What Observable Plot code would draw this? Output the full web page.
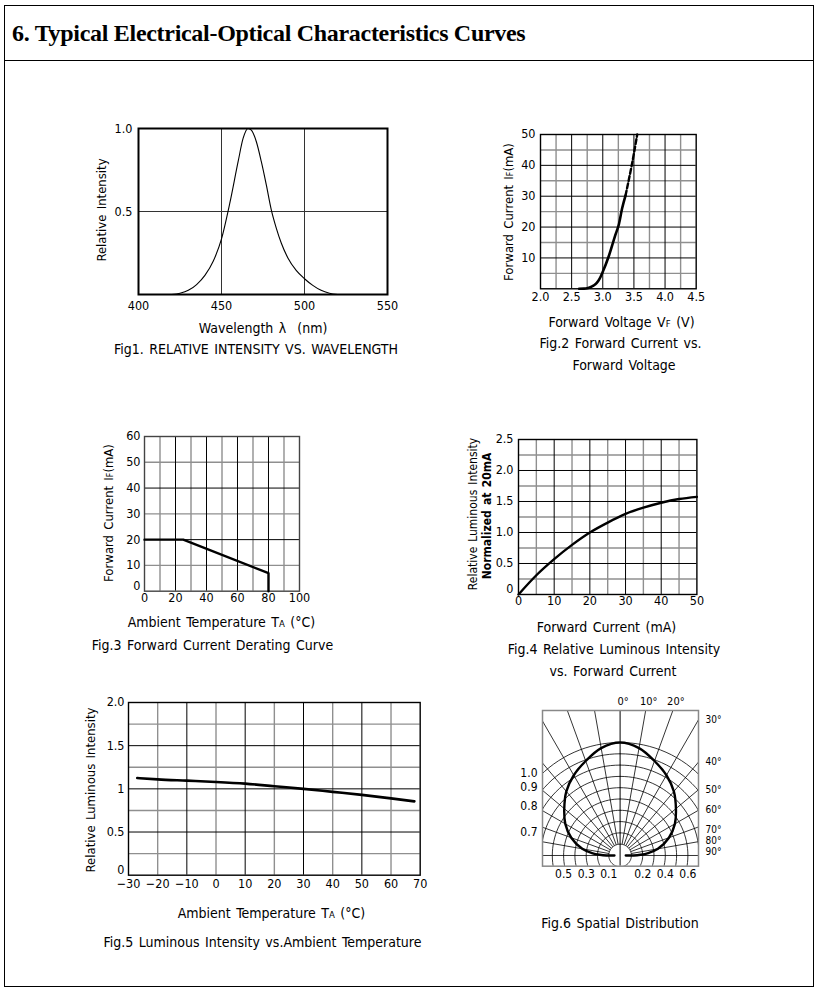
<!DOCTYPE html>
<html><head><meta charset="utf-8">
<script src="https://cdn.jsdelivr.net/npm/d3@7"></script>
<script src="https://cdn.jsdelivr.net/npm/@observablehq/plot@0.6"></script>
<style>
body{margin:0;background:#fff;}
#page{position:relative;width:818px;height:997px;background:#fff;overflow:hidden;font-family:"DejaVu Sans Condensed","DejaVu Sans",sans-serif;font-stretch:condensed;color:#000;}
.t{position:absolute;white-space:nowrap;transform:translate(-50%,-50%);font-size:14px;line-height:1;word-spacing:1.5px;}
.r{transform:translate(-50%,-50%) rotate(-90deg);font-size:13px;}
.r12{font-size:12px;}
.s{font-size:0.68em;}
.b{font-weight:bold;}
#page svg{position:absolute;overflow:visible;}
#box{position:absolute;left:4px;top:5px;width:810px;height:982px;border:1.5px solid #000;box-sizing:border-box;}
#sep{position:absolute;left:4px;top:60px;width:810px;height:0;border-top:1.5px solid #000;}
#title{position:absolute;left:12px;top:21px;font-family:"Liberation Serif","DejaVu Serif",serif;font-weight:bold;font-size:24px;line-height:1;white-space:nowrap;letter-spacing:-0.3px;}
</style></head><body><div id="page"><div id="box"></div><div id="sep"></div><div id="title">6. Typical Electrical-Optical Characteristics Curves</div></div>
<script>
// ---------- data ----------
// Fig1: relative intensity vs wavelength
const fig1Wavelength = [420,425,430,435,440,445,450,455,460,463,466,468,471,474,477,480,483,486,490,495,500,505,510,515,520];
const fig1Intensity  = [0,0.008,0.025,0.06,0.115,0.2,0.335,0.55,0.8,0.94,1.0,0.99,0.92,0.8,0.66,0.51,0.4,0.31,0.22,0.145,0.095,0.055,0.025,0.008,0];
const fig1XTicks = [400,450,500,550];
const fig1YTicks = [0.5,1.0];
// Fig2: forward current vs forward voltage
const fig2VoltSolid = [2.62,2.7,2.75,2.8,2.85,2.9,2.95,3.0,3.1,3.2,3.26,3.31,3.365];
const fig2CurrSolid = [0,0.05,0.2,0.5,1.0,1.8,3.3,5.5,10.8,17.3,21,26,30.2];
const fig2VoltDash = [3.365,3.42,3.47,3.51,3.553];
const fig2CurrDash = [30.2,35.5,40.5,45,50];
const fig2XTicks = [2.0,2.5,3.0,3.5,4.0,4.5];
const fig2YTicks = [10,20,30,40,50];
// Fig3: derating curve
const fig3Temp = [0,25,80,80];
const fig3Curr = [20,20,7,0];
const fig3XTicks = [0,20,40,60,80,100];
const fig3YTicks = [0,10,20,30,40,50,60];
// Fig4: relative luminous intensity vs forward current
const fig4Curr = [0,5,10,15,20,25,30,35,40,45,50];
const fig4Lum  = [0,0.31,0.57,0.8,1.0,1.16,1.3,1.4,1.48,1.54,1.575];
const fig4XTicks = [0,10,20,30,40,50];
const fig4YTicks = [0,0.5,1.0,1.5,2.0,2.5];
// Fig5: luminous intensity vs ambient temperature
const fig5Temp = [-27,-20,-10,0,10,20,30,40,50,60,68];
const fig5Lum  = [1.125,1.11,1.095,1.08,1.06,1.03,1.0,0.965,0.93,0.89,0.855];
const fig5XTicks = [-30,-20,-10,0,10,20,30,40,50,60,70];
const fig5YTicks = [0,0.5,1,1.5,2.0];
// Fig6: spatial distribution (angle in degrees, relative intensity)
const fig6Angle = [0,10,20,30,40,50,60,70,80,85,88,90,90];
const fig6Rel   = [1.0,0.965,0.89,0.82,0.74,0.645,0.56,0.46,0.34,0.25,0.18,0.12,0.05];
const fig6Rings = [0.1,0.2,0.3,0.4,0.5,0.6,0.7,0.8,0.9,1.0];
const fig6Spokes = [-90,-80,-70,-60,-50,-40,-30,-20,-10,10,20,30,40,50,60,70,80,90];
const fig6TopLabels = [0,10,20];
const fig6RightLabels = [30,40,50,60,70,80,90];
const fig6LeftLabels = [1.0,0.9,0.8,0.7];
const fig6BottomLabels = [-0.5,-0.3,-0.1,0.2,0.4,0.6];

// ---------- helpers ----------
const page = document.getElementById("page");
const FONT = '"DejaVu Sans Condensed","DejaVu Sans",sans-serif';
function panel({frame:[x0,y0,x1,y1], m:[mt,mr,mb,ml], x, y, marks}) {
  const svg = Plot.plot({
    width: x1-x0+ml+mr, height: y1-y0+mt+mb,
    marginTop: mt, marginRight: mr, marginBottom: mb, marginLeft: ml,
    x: {...x, axis: null}, y: {...y, axis: null},
    style: {fontFamily: FONT, fontSize: "12px", fontStretch: "condensed", background: "transparent", overflow: "visible", color: "#000"},
    marks
  });
  svg.style.left = (x0-ml)+"px"; svg.style.top = (y0-mt)+"px";
  page.append(svg);
}
function label(html, cx, cy, cls="") {
  const d = document.createElement("div");
  d.className = "t " + cls; d.innerHTML = html;
  d.style.left = cx+"px"; d.style.top = cy+"px";
  page.append(d);
}
const pts = (xs, ys) => xs.map((v,i) => ({x: v, y: ys[i]}));
function grid(xs, ys) {
  const xb = xs.filter((_,i)=>i%2===1), xg = xs.filter((_,i)=>i%2===0);
  const yb = ys.filter((_,i)=>i%2===1), yg = ys.filter((_,i)=>i%2===0);
  return [
    Plot.ruleX(xg, {stroke:"#8f8f8f", strokeWidth:1.4}),
    Plot.ruleY(yg, {stroke:"#8f8f8f", strokeWidth:1.4}),
    Plot.ruleX(xb, {stroke:"#000", strokeWidth:1}),
    Plot.ruleY(yb, {stroke:"#000", strokeWidth:1})
  ];
}
function xLabels(ticks, dy, fmt=d=>String(d)) {
  return Plot.text(ticks, {x: d=>d, frameAnchor:"bottom", dy, text: fmt, fontSize: 12.5, textAnchor:"middle"});
}
function yLabels(ticks, dx, fmt=d=>String(d), zeroDy=0) {
  return [
    Plot.text(ticks.filter(d => d !== 0), {y: d=>d, frameAnchor:"left", dx, text: fmt, fontSize: 12.5, textAnchor:"end"}),
    Plot.text(ticks.filter(d => d === 0), {y: d=>d, frameAnchor:"left", dx, dy: zeroDy, text: fmt, fontSize: 12.5, textAnchor:"end"})
  ];
}
const f1 = d => d.toFixed(1);

// ---------- Fig 1 ----------
panel({frame:[138,128,387,294], m:[10,20,22,40],
  x:{domain:[400,550]}, y:{domain:[0,1]},
  marks:[
    Plot.ruleX([450,500], {stroke:"#333", strokeWidth:1}),
    Plot.ruleY([0.5], {stroke:"#333", strokeWidth:1}),
    Plot.frame({stroke:"#000", strokeWidth:2}),
    Plot.line(pts(fig1Wavelength, fig1Intensity), {x:"x", y:"y", curve:"monotone-x", strokeWidth:1.1}),
    xLabels(fig1XTicks, 15),
    ...yLabels(fig1YTicks, -6, f1)
  ]});
label("Relative Intensity", 101, 210, "r");
label("Wavelength &lambda;&nbsp; (nm)", 263, 327.5);
label("Fig1. RELATIVE INTENSITY VS. WAVELENGTH", 256, 348.5);

// ---------- Fig 2 ----------
panel({frame:[540,134,695.7,288.3], m:[10,20,22,30],
  x:{domain:[2,4.5]}, y:{domain:[0,50]},
  marks:[
    ...grid(d3.range(2.25,4.5,0.25), d3.range(5,50,5)),
    Plot.frame({stroke:"#000", strokeWidth:1.4}),
    Plot.line(pts(fig2VoltSolid, fig2CurrSolid), {x:"x", y:"y", curve:"monotone-x", strokeWidth:2.6}),
    Plot.line(pts(fig2VoltDash, fig2CurrDash), {x:"x", y:"y", curve:"monotone-x", strokeWidth:2.4, strokeDasharray:"5,2.5"}),
    xLabels(fig2XTicks, 12, f1),
    ...yLabels(fig2YTicks, -5)
  ]});
label("Forward Current I<span class='s'>F</span>(mA)", 508, 211.5, "r");
label("Forward Voltage V<span class='s'>F</span> (V)", 621.5, 322);
label("Fig.2 Forward Current vs.", 620.5, 342.5);
label("Forward Voltage", 624, 364.5);

// ---------- Fig 3 ----------
panel({frame:[144,436,299,590.7], m:[10,20,22,30],
  x:{domain:[0,100]}, y:{domain:[0,60]},
  marks:[
    ...grid(d3.range(10,100,10), d3.range(10,60,10)),
    Plot.frame({stroke:"#444", strokeWidth:1.4}),
    Plot.line(pts(fig3Temp, fig3Curr), {x:"x", y:"y", strokeWidth:2.4}),
    xLabels(fig3XTicks, 11),
    ...yLabels(fig3YTicks, -4, d=>String(d), -5)
  ]});
label("Forward Current I<span class='s'>F</span>(mA)", 108, 513, "r");
label("Ambient Temperature T<span class='s'>A</span> (&deg;C)", 221.5, 621.5);
label("Fig.3 Forward Current Derating Curve", 212.5, 644.5);

// ---------- Fig 4 ----------
panel({frame:[518.3,439.3,696.7,594.3], m:[10,20,22,30],
  x:{domain:[0,50]}, y:{domain:[0,2.5]},
  marks:[
    ...grid(d3.range(5,50,5), d3.range(0.25,2.5,0.25)),
    Plot.frame({stroke:"#000", strokeWidth:1.4}),
    Plot.line(pts(fig4Curr, fig4Lum), {x:"x", y:"y", curve:"monotone-x", strokeWidth:2.4}),
    xLabels(fig4XTicks, 11),
    ...yLabels(fig4YTicks, -5, d => d===0 ? "0" : d.toFixed(1), -5)
  ]});
label("Relative Luminous Intensity", 473, 514, "r r12");
label("Normalized at 20mA", 486.5, 516, "r r12 b");
label("Forward Current (mA)", 606.5, 627);
label("Fig.4 Relative Luminous Intensity", 614, 648.5);
label("vs. Forward Current", 613, 671);

// ---------- Fig 5 ----------
panel({frame:[128.3,702.3,420,875], m:[10,20,22,30],
  x:{domain:[-30,70]}, y:{domain:[0,2]},
  marks:[
    ...grid(d3.range(-20,70,10), d3.range(0.25,2,0.25)),
    Plot.frame({stroke:"#000", strokeWidth:1.4}),
    Plot.line(pts(fig5Temp, fig5Lum), {x:"x", y:"y", curve:"monotone-x", strokeWidth:2.6}),
    xLabels(fig5XTicks, 13, d => d<0 ? "\u2212"+Math.abs(d) : String(d)),
    ...yLabels(fig5YTicks, -4, d => d===2 ? "2.0" : String(d), -5)
  ]});
label("Relative Luminous Intensity", 90, 790, "r");
label("Ambient Temperature T<span class='s'>A</span> (&deg;C)", 271.5, 912.5);
label("Fig.5 Luminous Intensity vs.Ambient Temperature", 262.5, 941.5);

// ---------- Fig 6 ----------
const K = 113, CX = 619.3, CY = 855;
const FX0 = 541.7, FX1 = 697.7, FY0 = 710, FY1 = 865.7;
const xD = [(FX0-CX)/K, (FX1-CX)/K], yD = [(CY-FY1)/K, (CY-FY0)/K];
const rad = a => a*Math.PI/180;
const ringPts = fig6Rings.flatMap(r => d3.range(0, 361, 3).map(a => ({r, x: r*Math.sin(rad(a)), y: r*Math.cos(rad(a))})));
const spokes = fig6Spokes.map(a => ({x1: 0.1*Math.sin(rad(a)), y1: 0.1*Math.cos(rad(a)), x2: 3*Math.sin(rad(a)), y2: 3*Math.cos(rad(a))}));
const leftHalf = fig6Angle.map((a,i) => ({x: -fig6Rel[i]*Math.sin(rad(a)), y: fig6Rel[i]*Math.cos(rad(a))})).reverse();
const rightHalf = fig6Angle.map((a,i) => ({x: fig6Rel[i]*Math.sin(rad(a)), y: fig6Rel[i]*Math.cos(rad(a))})).slice(1);
const pattern = leftHalf.concat(rightHalf);
const rightLabelY = a => a === 90 ? 0.035 : a === 80 ? 0.13 : a === 70 ? 0.23 : xD[1]/Math.tan(rad(a));
panel({frame:[FX0,FY0,FX1,FY1], m:[20,30,22,30],
  x:{domain:xD}, y:{domain:yD},
  marks:[
    Plot.line(ringPts, {x:"x", y:"y", z:"r", stroke:"#000", strokeWidth:0.8, clip:true}),
    Plot.link(spokes, {x1:"x1", y1:"y1", x2:"x2", y2:"y2", stroke:"#000", strokeWidth:0.8, clip:true}),
    Plot.ruleX([0], {stroke:"#000", strokeWidth:1}),
    Plot.frame({stroke:"#888", strokeWidth:1.5}),
    Plot.line(pattern, {x:"x", y:"y", curve:"catmull-rom", strokeWidth:2.4, clip:true}),
    Plot.text(fig6TopLabels, {x: a => Math.tan(rad(a))*yD[1], frameAnchor:"top", dy:-13, dx:3, text: a => a+"\u00b0", fontSize:11}),
    Plot.text(fig6RightLabels, {x: () => xD[1], y: rightLabelY, dx:7, text: a => a+"\u00b0", textAnchor:"start", fontSize:10}),
    Plot.text(fig6LeftLabels, {x: () => xD[0], y: r => Math.sqrt(r*r - xD[0]*xD[0]) + (r===0.7 ? 0.07 : r===0.9 ? 0.02 : r===0.8 ? 0.03 : 0), dx:-5, text: r => r.toFixed(1), textAnchor:"end", fontSize:12}),
    Plot.text(fig6BottomLabels, {x: v => v, frameAnchor:"bottom", dy:12, text: v => Math.abs(v).toFixed(1), fontSize:12})
  ]});
label("Fig.6 Spatial Distribution", 620, 923);
</script>
</body></html>
